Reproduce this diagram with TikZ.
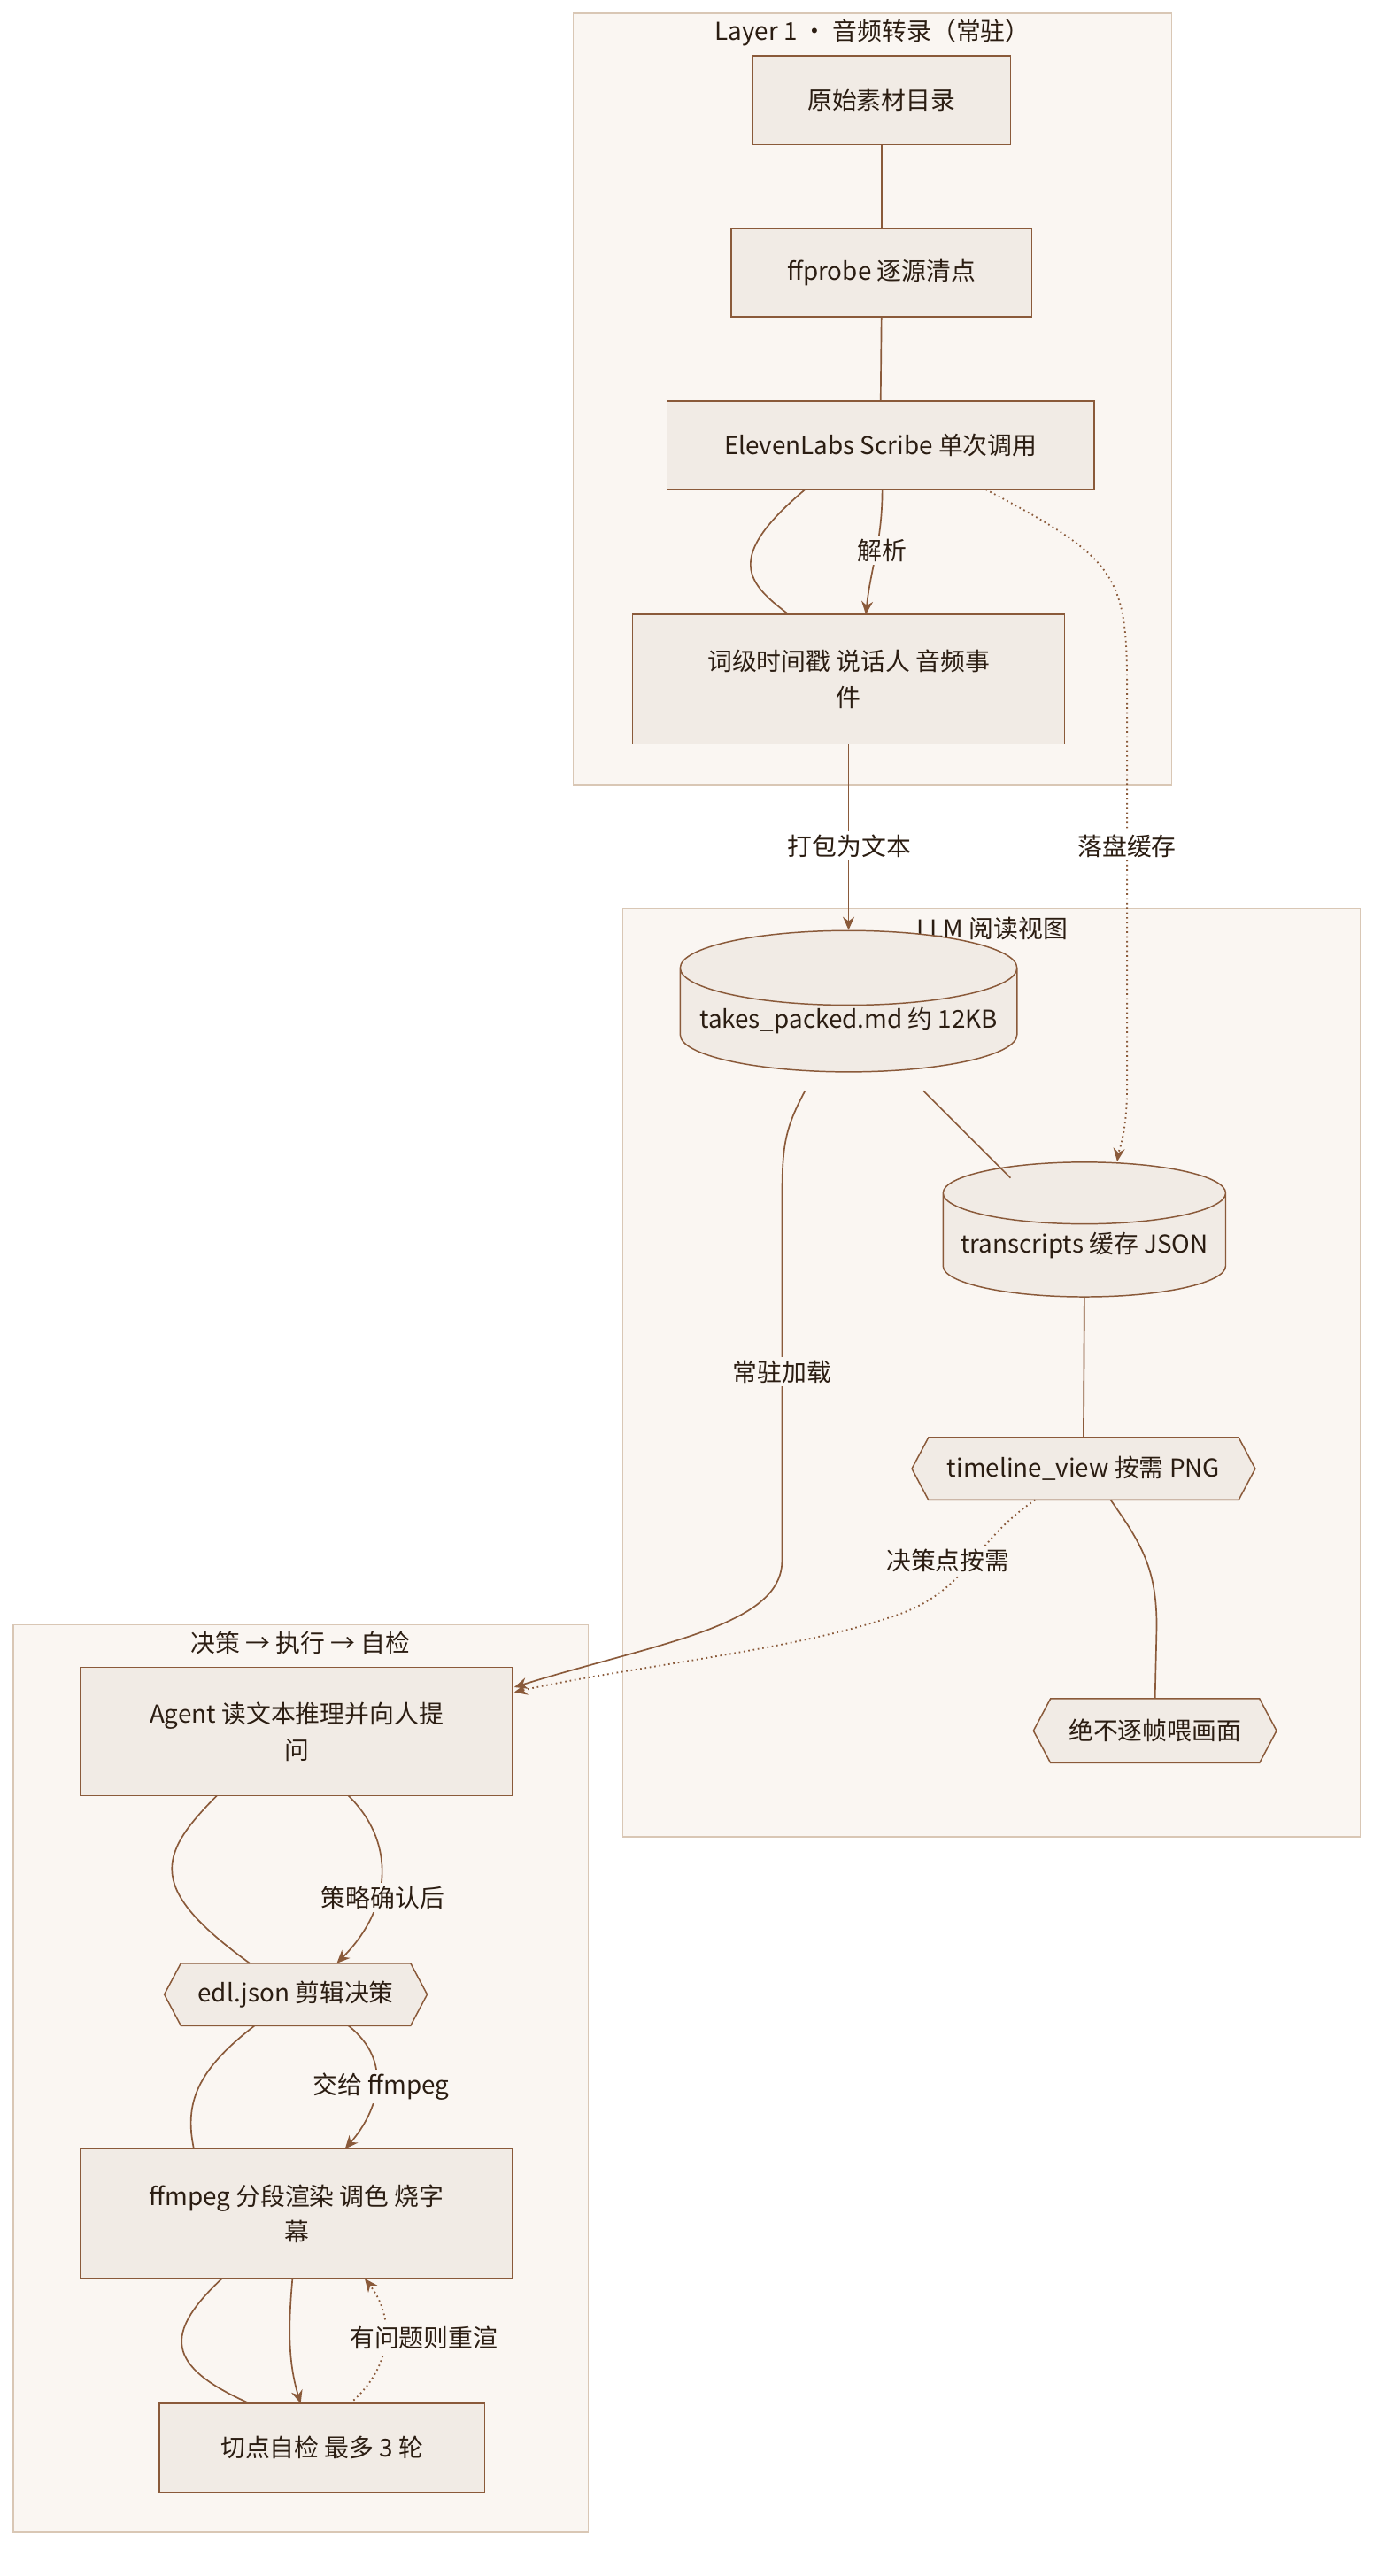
\documentclass[tikz,border=0pt]{standalone}
\usepackage{fontspec}
\setmainfont{Noto Sans CJK SC}
\usetikzlibrary{shapes.geometric,shapes.symbols,arrows.meta}
\definecolor{clbg}{HTML}{FAF6F2}
\definecolor{clbd}{HTML}{D9C7B5}
\definecolor{nbg}{HTML}{F1EBE5}
\definecolor{nbd}{HTML}{8A5A3A}
\definecolor{edg}{HTML}{8A5A3A}
\definecolor{txt}{HTML}{2B1D12}
\begin{document}
\begin{tikzpicture}[x=1pt,y=-1pt,
  every node/.style={font=\fontsize{15}{22}\selectfont, text=txt},
  cl/.style={draw=clbd, fill=clbg, line width=0.8pt},
  box/.style={draw=nbd, fill=nbg, line width=0.8pt, align=center, inner sep=0pt},
  cyl/.style={cylinder, shape border rotate=90, draw=nbd, fill=nbg, line width=0.8pt, aspect=0.25, inner sep=0pt},
  hex/.style={signal, signal to=west and east, signal pointer angle=124, draw=nbd, fill=nbg, line width=0.8pt, inner sep=0pt},
  e/.style={draw=edg, line width=0.9pt},
  ea/.style={e, -{Stealth[length=8pt,width=7pt]}},
  ed/.style={ea, dotted, line width=1pt},
  lb/.style={fill=#1, inner sep=2pt},
  lb/.default=clbg]
\useasboundingbox (0,0) rectangle (845,1568);
\fill[white] (0,0) rectangle (845,1568);
% clusters
\draw[cl] (349,8) rectangle (713,478);
\node (t1) at (531,20) {Layer 1 · 音频转录（常驻）};
\draw[cl] (379,553) rectangle (828,1118);
\node (t2) at (604,565) {LLM 阅读视图};
\draw[cl] (8,989) rectangle (358,1541);
\node (t3) at (183,1000) {决策 → 执行 → 自检};
% layer 1 nodes
\node[box, minimum width=157, minimum height=54] (n1) at (536.5,61) {原始素材目录};
\node[box, minimum width=183, minimum height=54] (n2) at (536.5,166) {ffprobe 逐源清点};
\node[box, minimum width=260, minimum height=54] (n3) at (536,271) {ElevenLabs Scribe 单次调用};
\node[box, minimum width=263, minimum height=79] (n4) at (516.5,413.5) {词级时间戳 说话人 音频事\\件};
% LLM nodes
\node[cyl, minimum width=205, minimum height=86] (p1) at (516.5,621) {takes\_packed.md 约 12KB};
\node[cyl, minimum width=172, minimum height=82] (p2) at (660,758) {transcripts 缓存 JSON};
\node[hex, minimum width=209, minimum height=38] (p3) at (659.5,894) {timeline\_view 按需 PNG};
\node[hex, minimum width=148, minimum height=39] (p4) at (703,1053.5) {绝不逐帧喂画面};
% decision nodes
\node[box, minimum width=263, minimum height=78] (d1) at (180.5,1054) {Agent 读文本推理并向人提\\问};
\node[hex, minimum width=160, minimum height=38] (d2) at (180,1214) {edl.json 剪辑决策};
\node[box, minimum width=263, minimum height=79] (d3) at (180.5,1347.5) {ffmpeg 分段渲染 调色 烧字\\幕};
\node[box, minimum width=198, minimum height=54] (d4) at (196,1490) {切点自检 最多 3 轮};
% coordinates
\coordinate (c1) at (313,1027);
% layer 1 edges
\draw[e] (n1.south) -- (n2.north);
\draw[e] (n2.south) -- (n3.north);
\draw[e] (490,298) .. controls (440,340) and (455,355) .. (480,374);
\draw[ea] (537,298) .. controls (537,330) and (530,345) .. (527,374);
\node[lb] (l1) at (537,335) {解析};
\draw[ed] (600,298) .. controls (680,340) and (686,350) .. (686,420) -- (686,660) .. controls (686,690) and (681,700) .. (p2.north -| 680,0);
\node[lb=white] (l2) at (686,515) {落盘缓存};
\draw[ea] (n4.south) -- (p1.north);
\node[lb=white] (l3) at (517,515) {打包为文本};
% LLM edges
\draw[e] (562,664) -- (615,717);
\draw[e] (p2.south) -- (p3.north);
\draw[e] (676,913) .. controls (695,940) and (704,955) .. (704,990) -- (p4.north);
\draw[ea] (490,664) .. controls (476,690) and (476,700) .. (476,740) -- (476,950) .. controls (476,990) and (400,1000) .. (c1);
\node[lb] (l4) at (476,835) {常驻加载};
\draw[ed] (630,913) .. controls (590,940) and (590,970) .. (540,985) .. controls (480,1005) and (380,1015) .. (313,1030);
\node[lb] (l5) at (577,950) {决策点按需};
% decision edges
\draw[e] (132,1093) .. controls (95,1130) and (90,1150) .. (152,1195);
\draw[ea] (212,1093) .. controls (240,1120) and (240,1160) .. (205,1195);
\node[lb] (l6) at (233,1155) {策略确认后};
\draw[e] (155,1233) .. controls (120,1260) and (112,1280) .. (118,1308);
\draw[ea] (212,1233) .. controls (240,1255) and (230,1285) .. (210,1308);
\node[lb] (l7) at (232,1270) {交给 ffmpeg};
\draw[e] (135,1387) .. controls (100,1420) and (100,1440) .. (152,1463);
\draw[ea] (178,1387) .. controls (175,1420) and (176,1440) .. (183,1463);
\draw[ed] (213,1463) .. controls (240,1440) and (240,1410) .. (222,1387);
\node[lb] (l8) at (258,1423) {有问题则重渲};
\end{tikzpicture}
\end{document}
